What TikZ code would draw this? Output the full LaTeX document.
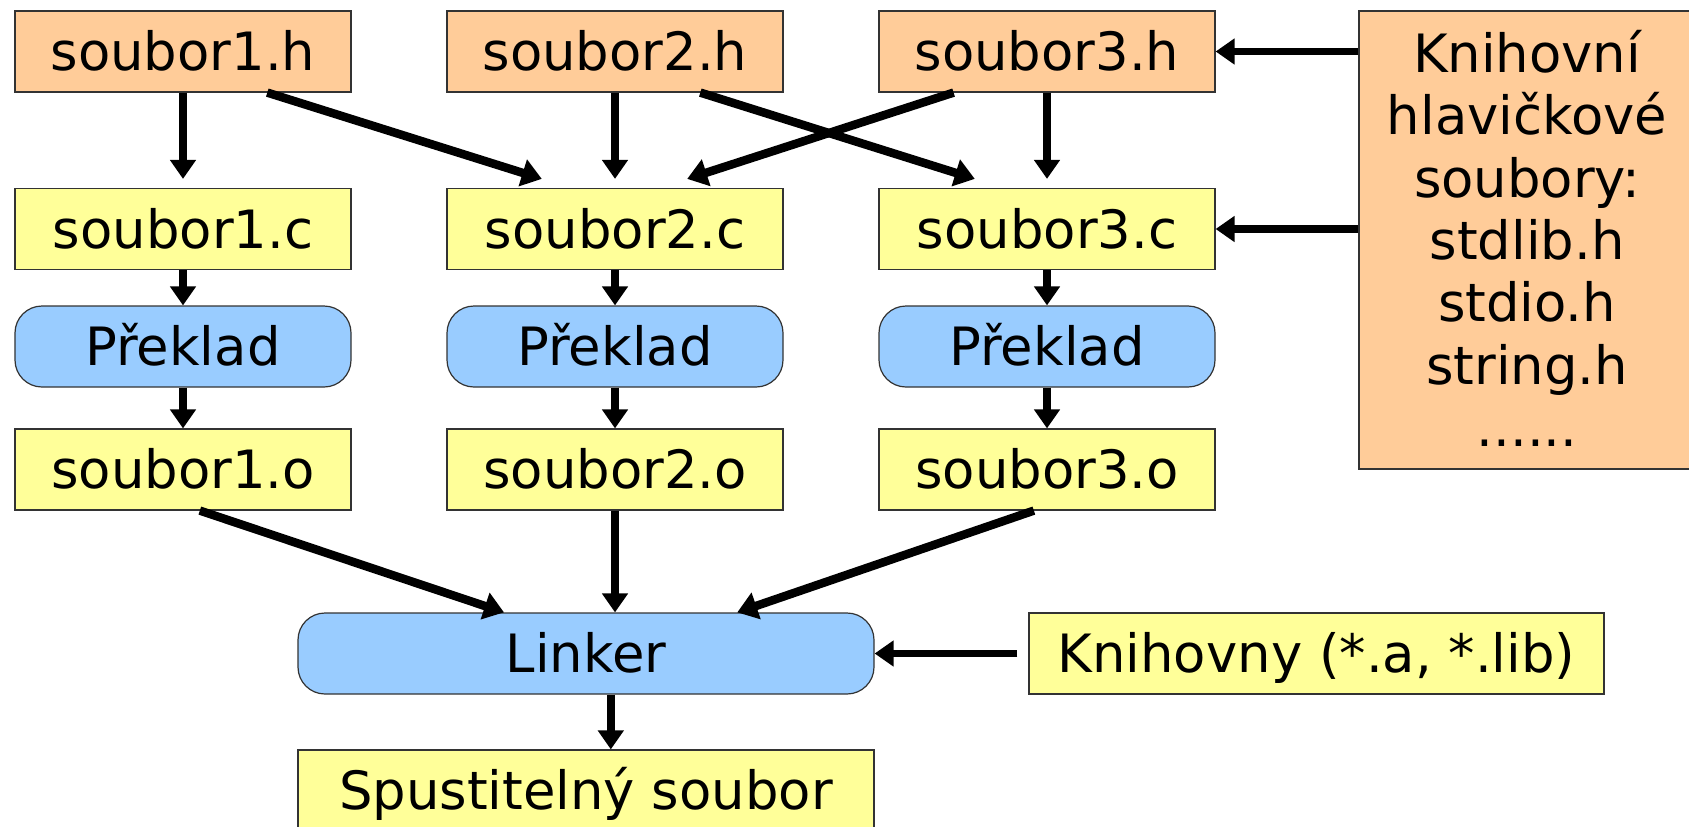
\documentclass[tikz,border=0pt]{standalone}
\usepackage{fontspec}
\setmainfont{DejaVu Sans}
\usetikzlibrary{arrows.meta,calc}
\definecolor{peach}{HTML}{FFCC99}
\definecolor{lyellow}{HTML}{FFFF99}
\definecolor{lblue}{HTML}{99CCFF}
\begin{document}
\begin{tikzpicture}[x=1bp,y=-1bp,
  box/.style={draw=black!80, line width=1.2bp, minimum width=336bp, minimum height=81bp,
    inner sep=0pt, font=\fontsize{53}{62.6}\selectfont, text height=38.6bp, text depth=0pt},
  hbox/.style={box, fill=peach},
  cbox/.style={box, fill=lyellow},
  pbox/.style={box, fill=lblue, rounded corners=27bp},
  arr/.style={line width=7.5bp, -{Triangle[length=19bp,width=25bp]}},
  darr/.style={arr, line width=8.5bp, -{Triangle[length=20bp,width=27bp]}},
]
\useasboundingbox (0,0) rectangle (1689,827);
\clip (0,0) rectangle (1689,827);

% header files
\node[hbox] (h1) at (183,51.5) {soubor1.h};
\node[hbox] (h2) at (615,51.5) {soubor2.h};
\node[hbox] (h3) at (1047,51.5) {soubor3.h};
% sources
\node[cbox] (c1) at (183,229) {soubor1.c};
\node[cbox] (c2) at (615,229) {soubor2.c};
\node[cbox] (c3) at (1047,229) {soubor3.c};
% compile
\node[pbox] (p1) at (183,346.5) {Překlad};
\node[pbox] (p2) at (615,346.5) {Překlad};
\node[pbox] (p3) at (1047,346.5) {Překlad};
% objects
\node[cbox] (o1) at (183,469.5) {soubor1.o};
\node[cbox] (o2) at (615,469.5) {soubor2.o};
\node[cbox] (o3) at (1047,469.5) {soubor3.o};
% library headers
\node[hbox, minimum height=458bp] (kn) at (1527,240) {};
\node[font=\fontsize{53}{62.6}\selectfont, align=center, inner sep=0pt] (kntext) at (1527,247)
  {\strut Knihovní\\\strut hlavičkové\\\strut soubory:\\\strut stdlib.h\\\strut stdio.h\\\strut string.h\\\strut ......};
% linker
\node[pbox, minimum width=576bp] (L) at (586,653.5) {Linker};
\node[cbox, minimum width=575bp] (lib) at (1316.5,653.5) {Knihovny (*.a, *.lib)};
\node[cbox, minimum width=576bp] (S) at (586,790.5) {Spustitelný soubor};

% header -> source arrows
\draw[arr, shorten >=9bp] (h1.south) -- (c1.north);
\draw[arr, shorten >=9bp] (h2.south) -- (c2.north);
\draw[arr, shorten >=9bp] (h3.south) -- (c3.north);
\coordinate (a1s) at ($(h1.south west)!0.75!(h1.south east)$);
\coordinate (a1e) at ($(c2.north west)!0.283!(c2.north east)+(0,-9)$);
\coordinate (a2s) at ($(h2.south west)!0.753!(h2.south east)$);
\coordinate (a2e) at ($(c3.north west)!0.286!(c3.north east)+(0,-9)$);
\coordinate (a3s) at ($(h3.south west)!0.223!(h3.south east)$);
\coordinate (a3e) at ($(c2.north west)!0.714!(c2.north east)+(0,-9)$);
\draw[darr] (a1s) -- (a1e);
\draw[darr] (a2s) -- (a2e);
\draw[darr] (a3s) -- (a3e);
% library headers -> files
\draw[arr] (kn.west |- h3.east) -- (h3.east);
\draw[arr] (kn.west |- c3.east) -- (c3.east);
% source -> compile -> object
\draw[arr] (c1.south) -- (p1.north);
\draw[arr] (c2.south) -- (p2.north);
\draw[arr] (c3.south) -- (p3.north);
\draw[arr] (p1.south) -- (o1.north);
\draw[arr] (p2.south) -- (o2.north);
\draw[arr] (p3.south) -- (o3.north);
% objects -> linker
\coordinate (b1s) at ($(o1.south west)!0.55!(o1.south east)$);
\coordinate (b1e) at ($(L.north west)!0.358!(L.north east)$);
\coordinate (b3s) at ($(o3.south west)!0.461!(o3.south east)$);
\coordinate (b3e) at ($(L.north west)!0.762!(L.north east)$);
\draw[darr] (b1s) -- (b1e);
\draw[arr] (o2.south) -- (o2.south |- L.north);
\draw[darr] (b3s) -- (b3e);
\draw[arr, shorten <=11bp] (lib.west) -- (L.east);
% linker -> executable
\coordinate (ls) at ($(L.south west)!0.543!(L.south east)$);
\draw[arr] (ls) -- (ls |- S.north);
\end{tikzpicture}
\end{document}
